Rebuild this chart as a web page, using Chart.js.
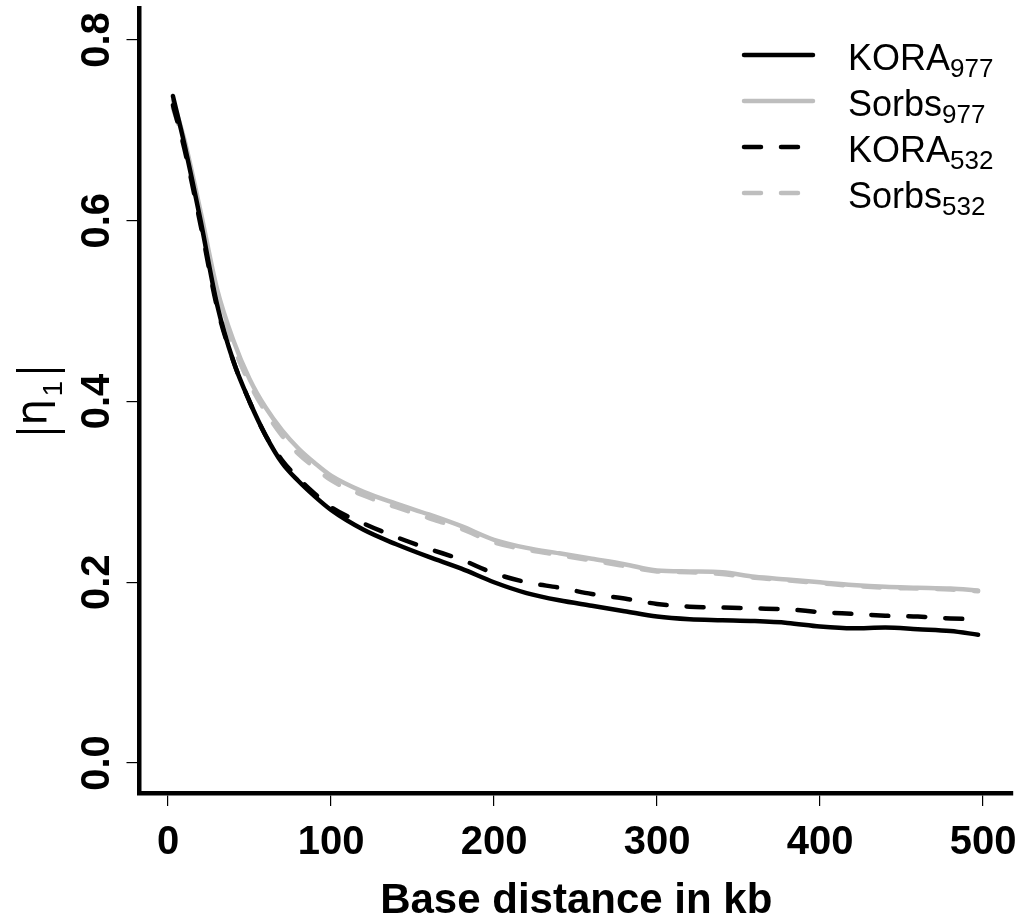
<!DOCTYPE html>
<html>
<head>
<meta charset="utf-8">
<script src="https://cdn.jsdelivr.net/npm/chart.js@4/dist/chart.umd.min.js"></script>
<style>
  html, body { margin: 0; padding: 0; background: #fff; overflow: hidden; }
  #wrap { width: 1019px; height: 914px; position: relative; }
</style>
</head>
<body>
<div id="wrap"><canvas id="chart"></canvas></div>
<script>
// distances (kb) and |eta_1|
var xKb      = [3, 10, 20, 30, 40, 50, 60, 70, 80, 90, 100, 120, 140, 160, 180, 200, 220, 240, 260, 280, 300, 320, 340, 360, 380, 400, 420, 440, 460, 480, 497];
var kora977  = [0.738, 0.685, 0.600, 0.508, 0.445, 0.400, 0.362, 0.332, 0.312, 0.295, 0.280, 0.258, 0.242, 0.228, 0.215, 0.200, 0.188, 0.180, 0.174, 0.168, 0.162, 0.159, 0.158, 0.157, 0.155, 0.151, 0.149, 0.150, 0.148, 0.146, 0.142];
var sorbs977 = [0.733, 0.690, 0.610, 0.525, 0.468, 0.425, 0.393, 0.368, 0.348, 0.332, 0.318, 0.300, 0.287, 0.275, 0.262, 0.247, 0.238, 0.232, 0.226, 0.220, 0.213, 0.212, 0.211, 0.206, 0.203, 0.200, 0.197, 0.195, 0.194, 0.193, 0.191];
var kora532  = [0.728, 0.680, 0.595, 0.505, 0.445, 0.400, 0.362, 0.335, 0.315, 0.298, 0.283, 0.265, 0.250, 0.237, 0.225, 0.210, 0.200, 0.194, 0.187, 0.182, 0.176, 0.173, 0.172, 0.171, 0.170, 0.167, 0.165, 0.163, 0.162, 0.160, 0.159];
var sorbs532 = [0.725, 0.685, 0.605, 0.520, 0.462, 0.420, 0.388, 0.362, 0.342, 0.327, 0.313, 0.296, 0.283, 0.271, 0.259, 0.244, 0.236, 0.230, 0.224, 0.218, 0.212, 0.211, 0.209, 0.205, 0.202, 0.199, 0.196, 0.194, 0.193, 0.192, 0.190];

var xTicks = [0, 100, 200, 300, 400, 500];
var yTicks = [0.0, 0.2, 0.4, 0.6, 0.8];
var seriesNames = ['KORA', 'Sorbs', 'KORA', 'Sorbs'];
var seriesSubs  = ['977', '977', '532', '532'];

var FONT = '"Liberation Sans", Arial, Helvetica, sans-serif';
var GRAY = '#bebebe';

Chart.defaults.font.family = FONT;
Chart.defaults.color = '#000';

function pts(ys) {
    return xKb.map(function(x, i){ return {x: x, y: ys[i]}; });
}

function series(i, ys, color, dashed, order) {
    return {
        label: seriesNames[i] + seriesSubs[i],
        data: pts(ys),
        borderColor: color,
        borderWidth: 4.5,
        borderDash: dashed ? [17, 20] : [],
        borderCapStyle: 'round',
        borderJoinStyle: 'round',
        pointRadius: 0,
        cubicInterpolationMode: 'monotone',
        fill: false,
        order: order
    };
}

// y tick labels (rotated, R style), y title and legend
var decor = {
    id: 'decor',
    afterDraw: function(chart) {
        var ctx = chart.ctx;
        var ys = chart.scales.y;
        var area = chart.chartArea;
        ctx.save();
        ctx.fillStyle = '#000';

        // y tick labels
        ctx.font = 'bold 40px ' + FONT;
        ctx.textAlign = 'center';
        ctx.textBaseline = 'alphabetic';
        ys.ticks.forEach(function(t){
            ctx.save();
            ctx.translate(area.left - 30.5, ys.getPixelForValue(t.value));
            ctx.rotate(-Math.PI / 2);
            ctx.fillText(t.value.toFixed(1), 0, 0);
            ctx.restore();
        });

        // y title |eta_1|
        ctx.save();
        ctx.translate(46, ys.getPixelForValue(0.4) - 1);
        ctx.rotate(-Math.PI / 2);
        ctx.textAlign = 'left';
        ctx.font = '42px "DejaVu Sans", ' + FONT;
        ctx.fillText('\u03b7', -25, 0);
        ctx.font = '28px ' + FONT;
        ctx.fillText('1', 4, 16);
        ctx.lineWidth = 3;
        ctx.strokeStyle = '#000';
        ctx.beginPath();
        ctx.moveTo(-31, -30); ctx.lineTo(-31, 19);
        ctx.moveTo(30, -30); ctx.lineTo(30, 19);
        ctx.stroke();
        ctx.restore();

        // legend
        chart.data.datasets.forEach(function(ds, i){
            var ly = area.top + 47 + i * 46;
            ctx.save();
            ctx.strokeStyle = ds.borderColor;
            ctx.lineWidth = ds.borderWidth;
            ctx.lineCap = 'round';
            ctx.setLineDash(ds.borderDash);
            ctx.beginPath();
            ctx.moveTo(area.right - 269, ly);
            ctx.lineTo(area.right - 200, ly);
            ctx.stroke();
            ctx.restore();

            var tx = area.right - 165;
            ctx.textAlign = 'left';
            ctx.font = '36px ' + FONT;
            ctx.fillText(seriesNames[i], tx, ly + 15);
            var w = ctx.measureText(seriesNames[i]).width;
            ctx.font = '26px ' + FONT;
            ctx.fillText(seriesSubs[i], tx + w, ly + 22);
        });
        ctx.restore();
    }
};

new Chart(document.getElementById('chart'), {
    type: 'line',
    data: {
        datasets: [
            series(0, kora977, '#000', false, 0),
            series(1, sorbs977, GRAY, false, 2),
            series(2, kora532, '#000', true, 1),
            series(3, sorbs532, GRAY, true, 3)
        ]
    },
    options: {
        responsive: true,
        maintainAspectRatio: false,
        animation: false,
        layout: { autoPadding: false, padding: { top: 8, right: 6, left: 0, bottom: 0 } },
        plugins: {
            legend: { display: false },
            tooltip: { enabled: false }
        },
        scales: {
            x: {
                type: 'linear',
                min: -17.5,
                max: 518.4,
                afterBuildTicks: function(scale){
                    scale.ticks = xTicks.map(function(v){ return {value: v}; });
                },
                afterFit: function(scale){
                    scale.height = 121;
                    scale.paddingLeft = 0;
                    scale.paddingRight = 0;
                },
                grid: {
                    display: true,
                    drawOnChartArea: false,
                    drawTicks: true,
                    tickLength: 13,
                    color: '#000',
                    lineWidth: 1.2
                },
                border: { display: true, color: '#000', width: 4.5 },
                ticks: {
                    padding: 13,
                    font: { size: 40, weight: 'bold' },
                    color: '#000',
                    maxRotation: 0,
                    autoSkip: false
                },
                title: {
                    display: true,
                    text: 'Base distance in kb',
                    font: { size: 42, weight: 'bold', lineHeight: 1 },
                    color: '#000',
                    padding: { top: 0, bottom: -8 }
                }
            },
            y: {
                type: 'linear',
                min: -0.0332,
                max: 0.8354,
                afterBuildTicks: function(scale){
                    scale.ticks = yTicks.map(function(v){ return {value: v}; });
                },
                afterFit: function(scale){
                    scale.width = 139.5;
                    scale.paddingTop = 0;
                    scale.paddingBottom = 0;
                },
                grid: {
                    display: true,
                    drawOnChartArea: false,
                    drawTicks: true,
                    tickLength: 13,
                    color: '#000',
                    lineWidth: 1.2
                },
                border: { display: true, color: '#000', width: 4.5 },
                ticks: { display: false }
            }
        }
    },
    plugins: [decor]
});
</script>
</body>
</html>
